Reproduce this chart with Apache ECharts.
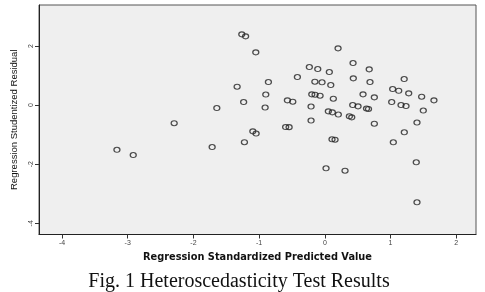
<!DOCTYPE html>
<html>
<head>
<meta charset="utf-8">
<script src="https://cdn.jsdelivr.net/npm/echarts@6/dist/echarts.min.js"></script>
<style>
html,body{margin:0;padding:0;background:#fff;}
#chart{width:485px;height:292px;}
</style>
</head>
<body>
<div id="chart"></div>
<script>
// Regression Standardized Predicted Value
const predicted = [-1.264,-1.206,-1.051,-0.859,-1.335,-0.899,-0.570,-0.488,-1.236,-1.644,-0.909,-2.293,
  0.201,0.429,-0.236,-0.108,0.068,0.675,-0.418,0.433,1.207,0.687,-0.152,-0.043,0.090,1.032,1.124,1.276,
  -0.199,-0.149,-0.073,0.581,0.753,1.473,0.129,1.660,1.017,0.424,0.505,1.159,1.235,-0.210,0.634,0.664,
  0.053,0.114,0.205,1.498,0.373,0.409,-0.210,1.402,0.753,-3.164,-2.916,-1.715,-1.224,-1.096,-1.046,
  -0.597,-0.544,1.209,1.042,0.109,0.155,0.018,0.307,1.391,1.402];
// Regression Studentized Residual
const residual = [2.396,2.328,1.787,0.782,0.623,0.359,0.162,0.115,0.105,-0.098,-0.081,-0.613,
  1.922,1.425,1.289,1.222,1.120,1.211,0.951,0.907,0.883,0.782,0.792,0.772,0.680,0.545,0.487,0.399,
  0.365,0.352,0.318,0.365,0.264,0.284,0.217,0.162,0.105,0.003,-0.041,0.003,-0.030,-0.047,-0.115,-0.129,
  -0.210,-0.244,-0.318,-0.183,-0.379,-0.413,-0.521,-0.589,-0.629,-1.513,-1.689,-1.418,-1.255,-0.887,-0.961,
  -0.741,-0.746,-0.920,-1.259,-1.157,-1.171,-2.139,-2.220,-1.936,-3.289];
const xTicks = [-4,-3,-2,-1,0,1,2];
const yTicks = [-4,-2,0,2];
const xTitle = 'Regression Standardized Predicted Value';
const yTitle = 'Regression Studentized Residual';
const caption = 'Fig. 1 Heteroscedasticity Test Results';

const points = predicted.map((x,i)=>[x,residual[i]]);
const chart = echarts.init(document.getElementById('chart'), null, {renderer:'canvas'});
chart.setOption({
  animation:false,
  backgroundColor:'#fff',
  grid:{left:39,top:5,right:9,bottom:57.5,show:true,backgroundColor:'#efefef',borderColor:'#555',borderWidth:1},
  xAxis:{
    type:'value',min:-4.35,max:2.30,
    name:xTitle,nameLocation:'middle',nameGap:18,
    nameTextStyle:{fontFamily:'DejaVu Sans',fontSize:9.8,fontWeight:'bold',color:'#111'},
    axisLine:{show:true,onZero:false,lineStyle:{color:'#222',width:1}},
    axisTick:{show:true,length:4,customValues:xTicks,lineStyle:{color:'#333'}},
    axisLabel:{customValues:xTicks,fontSize:7,color:'#444',margin:5,fontFamily:'Liberation Sans'},
    splitLine:{show:false}
  },
  yAxis:{
    type:'value',min:-4.38,max:3.39,
    name:yTitle,nameLocation:'middle',nameGap:20,nameRotate:90,
    nameTextStyle:{fontFamily:'Liberation Sans',fontSize:9.5,color:'#111'},
    axisLine:{show:true,onZero:false,lineStyle:{color:'#222',width:1}},
    axisTick:{show:true,length:4,customValues:yTicks,lineStyle:{color:'#333'}},
    axisLabel:{customValues:yTicks,fontSize:7,color:'#444',margin:4,rotate:90,fontFamily:'Liberation Sans'},
    splitLine:{show:false}
  },
  graphic:[{type:'text',x:239,y:282,style:{text:caption,fontFamily:'Liberation Serif',fontSize:20,fill:'#111',textAlign:'center',textVerticalAlign:'middle'}}],
  series:[{
    type:'scatter',data:points,symbol:'circle',symbolSize:[6,5],
    itemStyle:{color:'rgba(0,0,0,0)',borderColor:'#222',borderWidth:1.2}
  }]
});
</script>
</body>
</html>
